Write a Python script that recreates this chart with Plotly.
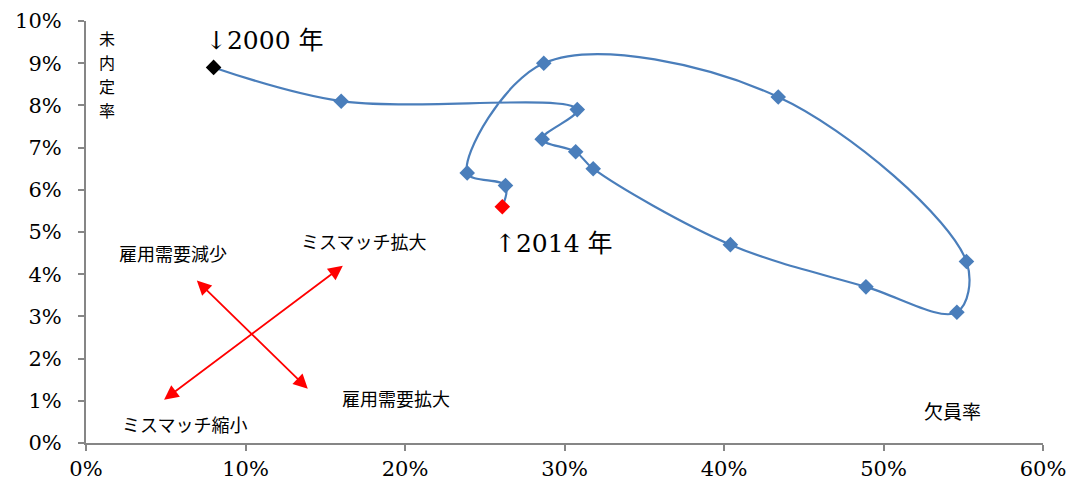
import plotly.graph_objects as go

vacancy_rate = [8.0, 16.0, 30.8, 28.6, 30.7, 31.8, 40.4, 48.9, 54.6, 55.2, 43.4, 28.7, 23.9, 26.3, 26.1]
unplaced_rate = [8.9, 8.1, 7.9, 7.2, 6.9, 6.5, 4.7, 3.7, 3.1, 4.3, 8.2, 9.0, 6.4, 6.1, 5.6]
x_ticks = [0, 10, 20, 30, 40, 50, 60]
x_tick_labels = ["0%", "10%", "20%", "30%", "40%", "50%", "60%"]
y_ticks = list(range(0, 11))
y_tick_labels = [f"{v}%" for v in y_ticks]

BLUE = "#4A7EBB"
GRAY = "#868686"
FONT = "DejaVu Serif"
JFONT = "Noto Sans CJK JP"

marker_colors = ["#000000"] + [BLUE] * (len(vacancy_rate) - 2) + ["#FF0000"]

fig = go.Figure()
fig.add_trace(go.Scatter(
    x=vacancy_rate, y=unplaced_rate, mode="lines+markers",
    line=dict(color=BLUE, width=2.2, shape="spline", smoothing=1.0),
    marker=dict(symbol="diamond", size=12, color=marker_colors, line=dict(width=0)),
    showlegend=False, hoverinfo="skip",
))

annos = []
for (x0, y0, x1, y1) in [(4.8, 1.0, 16.1, 4.2), (14.0, 1.25, 6.95, 3.85)]:
    annos.append(dict(x=x1, y=y1, ax=x0, ay=y0, xref="x", yref="y", axref="x", ayref="y",
                      showarrow=True, arrowhead=2, startarrowhead=2, arrowside="end+start",
                      arrowsize=1.6, startarrowsize=1.6, arrowwidth=1.8, arrowcolor="#FF0000", text=""))

def txt(x, y, s, size, xanchor="left", family=FONT):
    annos.append(dict(x=x, y=y, xref="x", yref="y", text=s, showarrow=False, borderpad=0,
                      xanchor=xanchor, yanchor="middle", font=dict(family=family, size=size, color="#000000")))

txt(7.45, 9.6, "↓2000 <span style='font-family:Noto Sans CJK JP'>年</span>", 25)
txt(25.6, 4.79, "↑2014 <span style='font-family:Noto Sans CJK JP'>年</span>", 25)
txt(2.0, 4.5, "雇用需要減少", 18, family=JFONT)
txt(13.4, 4.79, "ミスマッチ拡大", 18, family=JFONT)
txt(16.0, 1.07, "雇用需要拡大", 18, family=JFONT)
txt(2.2, 0.45, "ミスマッチ縮小", 18, family=JFONT)
txt(52.5, 0.78, "欠員率", 19, family=JFONT)
for i, ch in enumerate("未内定率"):
    txt(1.3, 9.6 - i * 0.57, ch, 16, xanchor="center", family=JFONT)

fig.update_layout(
    width=1070, height=491,
    margin=dict(l=86, r=27, t=21, b=48),
    paper_bgcolor="white", plot_bgcolor="white",
    font=dict(family=FONT),
    annotations=annos,
    xaxis=dict(range=[0, 60], tickvals=x_ticks, ticktext=x_tick_labels, showgrid=False, zeroline=False,
               showline=True, linecolor=GRAY, linewidth=2, ticks="outside", ticklen=6, tickcolor=GRAY,
               tickwidth=1.5, tickfont=dict(family=FONT, size=21, color="#000000"), fixedrange=True,
               automargin=False),
    yaxis=dict(range=[0, 10], tickvals=y_ticks, ticktext=y_tick_labels, showgrid=False, zeroline=False,
               showline=True, linecolor=GRAY, linewidth=2, ticks="outside", ticklen=6, tickcolor=GRAY,
               tickwidth=1.5, tickfont=dict(family=FONT, size=21, color="#000000"), fixedrange=True,
               ticklabelstandoff=12, automargin=False),
)

fig.write_html("out.html")
